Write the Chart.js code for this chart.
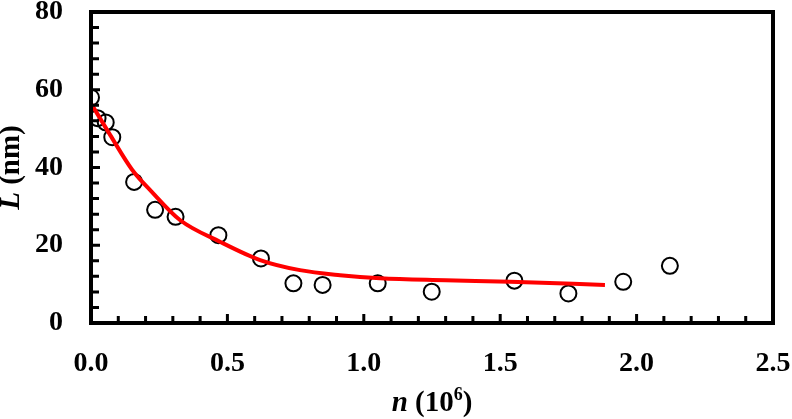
<!DOCTYPE html>
<html>
<head>
<meta charset="utf-8">
<script src="https://cdn.jsdelivr.net/npm/chart.js@4"></script>
<style>
  body { margin: 0; background: #fff; }
  #wrap { width: 792px; height: 419px; position: relative; }
</style>
</head>
<body>
<div id="wrap"><canvas id="chart"></canvas></div>
<script>
// Measured points (n in 10^6, L in nm)
const nValues = [0.0, 0.024, 0.054, 0.078, 0.158, 0.235, 0.31, 0.467, 0.623, 0.742, 0.849, 1.051, 1.249, 1.552, 1.75, 1.951, 2.122];
const lValues = [58.0, 52.7, 51.6, 47.8, 36.3, 29.1, 27.3, 22.6, 16.6, 10.2, 9.8, 10.2, 8.05, 10.9, 7.6, 10.6, 14.7];

// Fitted curve
const fitN = [0, 0.07, 0.15, 0.222, 0.326, 0.473, 0.62, 0.766, 0.913, 1.06, 1.3, 1.536, 1.884];
const fitL = [56.5, 48.4, 39.5, 33.8, 26.5, 20.9, 16.2, 13.6, 12.3, 11.5, 11.0, 10.6, 9.8];

const xMajor = [0.0, 0.5, 1.0, 1.5, 2.0, 2.5];
const yMajor = [0, 20, 40, 60, 80];

const FONT = '"Liberation Serif", "Times New Roman", serif';

// frame, inward ticks and axis titles
const framePlugin = {
    id: 'frame',
    afterDraw(chart) {
        const ctx = chart.ctx;
        const a = chart.chartArea;
        const xs = chart.scales.x;
        const ys = chart.scales.y;
        ctx.save();
        ctx.strokeStyle = '#000';
        ctx.lineWidth = 4;
        ctx.strokeRect(a.left, a.top, a.right - a.left, a.bottom - a.top);

        ctx.lineWidth = 3;
        ctx.beginPath();
        xs.ticks.forEach(t => {
            const px = xs.getPixelForValue(t.value);
            const len = t.label !== '' ? 9 : 7;
            ctx.moveTo(px, a.bottom);
            ctx.lineTo(px, a.bottom - len);
        });
        ys.ticks.forEach(t => {
            const py = ys.getPixelForValue(t.value);
            const len = t.label !== '' ? 9 : 8;
            ctx.moveTo(a.left, py);
            ctx.lineTo(a.left + len, py);
        });
        ctx.stroke();

        // x title: n (10^6)
        ctx.fillStyle = '#000';
        ctx.textBaseline = 'alphabetic';
        const fBold = 'bold 29px ' + FONT;
        const fItal = 'italic bold 29px ' + FONT;
        const fSup = 'bold 18px ' + FONT;
        const parts = [['n', fItal, 0], [' (10', fBold, 0], ['6', fSup, -11], [')', fBold, 0]];
        let total = 0;
        parts.forEach(p => { ctx.font = p[1]; total += ctx.measureText(p[0]).width; });
        let x = (a.left + a.right) / 2 - total / 2;
        const base = 411;
        parts.forEach(p => {
            ctx.font = p[1];
            ctx.fillText(p[0], x, base + p[2]);
            x += ctx.measureText(p[0]).width;
        });

        // y title: L (nm)
        ctx.translate(19, (a.top + a.bottom) / 2);
        ctx.rotate(-Math.PI / 2);
        const yparts = [['L', fItal], [' (nm)', fBold]];
        total = 0;
        yparts.forEach(p => { ctx.font = p[1]; total += ctx.measureText(p[0]).width; });
        x = -total / 2;
        yparts.forEach(p => {
            ctx.font = p[1];
            ctx.fillText(p[0], x, 0);
            x += ctx.measureText(p[0]).width;
        });
        ctx.restore();
    }
};

const ctx = document.getElementById('chart').getContext('2d');
const chart = new Chart(ctx, {
    type: 'scatter',
    data: {
        datasets: [{
            label: 'fit',
            type: 'line',
            data: fitN.map((v, i) => ({ x: v, y: fitL[i] })),
            borderColor: '#ff0000',
            borderWidth: 4,
            pointRadius: 0,
            fill: false,
            cubicInterpolationMode: 'monotone',
            order: 0
        }, {
            label: 'L',
            data: nValues.map((v, i) => ({ x: v, y: lValues[i] })),
            borderColor: '#000',
            backgroundColor: 'rgba(0,0,0,0)',
            borderWidth: 2,
            pointRadius: 8,
            pointHoverRadius: 8,
            order: 1
        }]
    },
    options: {
        responsive: true,
        maintainAspectRatio: false,
        animation: false,
        layout: { padding: { top: 12, right: 19, left: 0, bottom: 0 } },
        plugins: {
            legend: { display: false },
            tooltip: { enabled: false }
        },
        scales: {
            x: {
                type: 'linear',
                min: 0,
                max: 2.5,
                grid: { display: false },
                border: { display: false },
                ticks: {
                    stepSize: 0.1,
                    autoSkip: false,
                    maxRotation: 0,
                    padding: 16,
                    color: '#000',
                    font: { family: FONT, size: 28, weight: 'bold' },
                    callback: function(v) {
                        const hit = xMajor.find(m => Math.abs(m - v) < 1e-6);
                        return hit !== undefined ? hit.toFixed(1) : '';
                    }
                },
                afterFit: s => {
                    s.height = 96;
                    s.paddingLeft = 0;
                    s.paddingRight = 0;
                }
            },
            y: {
                min: 0,
                max: 80,
                grid: { display: false },
                border: { display: false },
                ticks: {
                    stepSize: 4,
                    autoSkip: false,
                    padding: 20,
                    color: '#000',
                    font: { family: FONT, size: 28, weight: 'bold' },
                    callback: function(v) {
                        return yMajor.includes(v) ? String(v) : '';
                    }
                },
                afterFit: s => {
                    s.width = 91;
                    s.paddingTop = 0;
                    s.paddingBottom = 0;
                }
            }
        }
    },
    plugins: [framePlugin]
});
</script>
</body>
</html>
